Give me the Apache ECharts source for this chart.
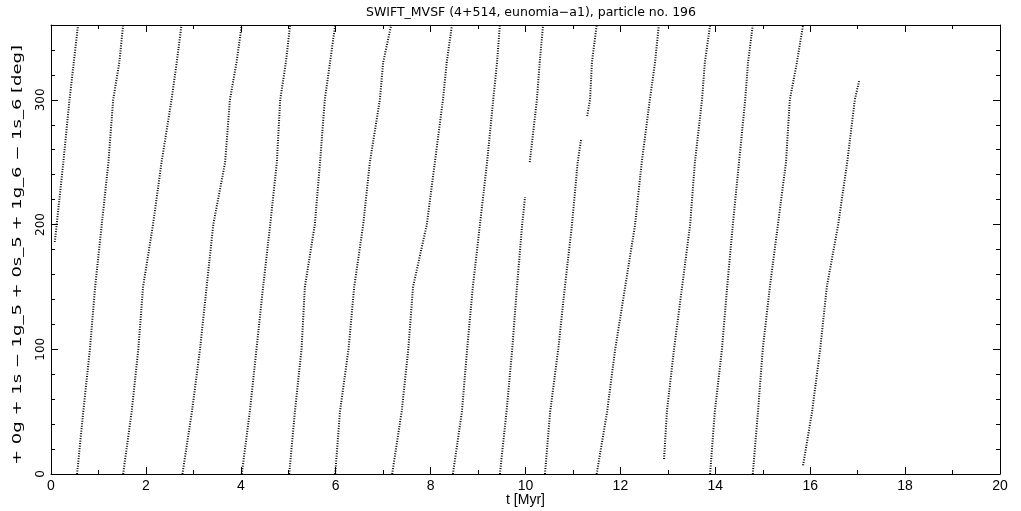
<!DOCTYPE html>
<html><head><meta charset="utf-8">
<script src="https://cdn.jsdelivr.net/npm/echarts@6/dist/echarts.min.js"></script>
<style>html,body{margin:0;padding:0;background:#fff}#c{width:1021px;height:511px}</style>
</head><body><div id="c"></div>
<script>
// Resonant angle stripes: each stripe is a list of [t (Myr), angle (deg)]
const stripe00 = [[0.08,186],[0.12,200],[0.26,250],[0.39,300],[0.48,330],[0.57,360]];
const stripe01 = [[0.55,0],[0.68,50],[0.82,100],[0.93,150],[1.07,200],[1.21,250],[1.31,300],[1.44,330],[1.52,360]];
const stripe02 = [[1.52,0],[1.70,50],[1.84,100],[1.94,150],[2.15,200],[2.33,250],[2.54,300],[2.65,330],[2.75,360]];
const stripe03 = [[2.77,0],[2.97,50],[3.14,100],[3.28,150],[3.42,200],[3.67,250],[3.77,300],[3.91,330],[4.02,360]];
const stripe04 = [[4.02,0],[4.19,50],[4.33,100],[4.47,150],[4.62,200],[4.76,250],[4.83,300],[4.95,330],[5.04,360]];
const stripe05 = [[5.02,0],[5.14,50],[5.28,100],[5.35,150],[5.56,200],[5.67,250],[5.77,300],[5.88,330],[5.99,360]];
const stripe06 = [[5.99,0],[6.09,50],[6.27,100],[6.39,150],[6.58,200],[6.72,250],[6.93,300],[7.00,330],[7.17,360]];
const stripe07 = [[7.19,0],[7.39,50],[7.53,100],[7.63,150],[7.92,200],[8.09,250],[8.26,300],[8.34,330],[8.45,360]];
const stripe08 = [[8.47,0],[8.66,50],[8.77,100],[8.89,150],[9.04,200],[9.19,250],[9.32,300],[9.40,330],[9.46,360]];
const stripe09a = [[9.46,0],[9.60,50],[9.72,100],[9.82,150],[9.93,200],[9.99,222]];
const stripe09b = [[10.09,250],[10.24,300],[10.30,330],[10.37,360]];
const stripe10a = [[10.41,0],[10.52,50],[10.69,100],[10.83,150],[10.98,200],[11.10,250],[11.17,268]];
const stripe10b = [[11.30,287],[11.36,300],[11.40,330],[11.50,360]];
const stripe11 = [[11.50,0],[11.72,50],[11.89,100],[12.10,150],[12.31,200],[12.45,250],[12.62,300],[12.73,330],[12.81,360]];
const stripe12 = [[12.92,12],[12.98,50],[13.13,100],[13.30,150],[13.47,200],[13.57,250],[13.72,300],[13.78,330],[13.89,360]];
const stripe13 = [[13.89,0],[13.99,50],[14.14,100],[14.25,150],[14.37,200],[14.50,250],[14.63,300],[14.69,330],[14.79,360]];
const stripe14 = [[14.79,0],[14.90,50],[15.00,100],[15.15,150],[15.32,200],[15.49,250],[15.57,300],[15.72,330],[15.85,360]];
const stripe15 = [[15.85,7],[16.04,50],[16.21,100],[16.35,150],[16.59,200],[16.78,250],[16.94,300],[17.03,315]];
const stripes = [stripe00,stripe01,stripe02,stripe03,stripe04,stripe05,stripe06,stripe07,stripe08,
  stripe09a,stripe09b,stripe10a,stripe10b,stripe11,stripe12,stripe13,stripe14,stripe15];

const titleText = 'SWIFT_MVSF (4+514, eunomia\u2212a1), particle no. 196';
const xName = 't [Myr]';
const yName = '+ 0g + 1s \u2212 1g_5 + 0s_5 + 1g_6 \u2212 1s_6 [deg]';

const font = 'Liberation Sans';
const series = stripes.map(s => ({
  type: 'line', xAxisIndex: 0, yAxisIndex: 0, data: s, symbol: 'none', silent: true, animation: false,
  lineStyle: { color: '#000', width: 2, type: [1, 1.5] }
}));

function frameAxis(pos, min, max, interval, tickLen, showLine) {
  return {
    type: 'value', min: min, max: max, interval: interval, position: pos, offset: 0,
    axisLine: { show: showLine, onZero: false, lineStyle: { color: '#000', width: 1 } },
    axisTick: { show: true, inside: true, length: tickLen, lineStyle: { color: '#000', width: 1 } },
    axisLabel: { show: false },
    splitLine: { show: false }
  };
}

const xMain = frameAxis('bottom', 0, 20, 2, 7, true);
xMain.axisLabel = { show: true, fontFamily: font, fontSize: 14, color: '#000', margin: 5 };
xMain.name = xName; xMain.nameLocation = 'middle'; xMain.nameGap = 19; xMain.nameMoveOverlap = false;
xMain.nameTextStyle = { fontFamily: font, fontSize: 14, color: '#000' };

const yMain = frameAxis('left', 0, 360, 100, 7, true);
yMain.axisLabel = { show: true, fontFamily: 'DejaVu Sans', fontSize: 12, color: '#000', rotate: 90, margin: 4, showMaxLabel: false };

const chart = echarts.init(document.getElementById('c'), null, { renderer: 'canvas' });
chart.setOption({
  backgroundColor: '#fff',
  animation: false,
  title: { text: titleText, left: 526, top: 1, textAlign: 'center',
    textStyle: { fontFamily: 'DejaVu Sans', fontSize: 12.5, fontWeight: 'normal', color: '#000' } },
  grid: { left: 51, right: 21, top: 25, bottom: 37, containLabel: false, outerBoundsMode: 'none' },
  xAxis: [
    xMain,
    frameAxis('top', 0, 20, 2, 7, true),
    frameAxis('bottom', 0, 20, 1, 4, false),
    frameAxis('top', 0, 20, 1, 4, false)
  ],
  yAxis: [
    yMain,
    frameAxis('right', 0, 360, 100, 7, true),
    frameAxis('left', 0, 360, 20, 4, false),
    frameAxis('right', 0, 360, 20, 4, false)
  ],
  graphic: [{
    type: 'text', x: 18, y: 255, rotation: Math.PI / 2, scaleX: 1.5, silent: true,
    style: { text: yName, font: '12px "DejaVu Sans"', fill: '#000', align: 'center', verticalAlign: 'middle' }
  }],
  series: series
});
</script></body></html>
